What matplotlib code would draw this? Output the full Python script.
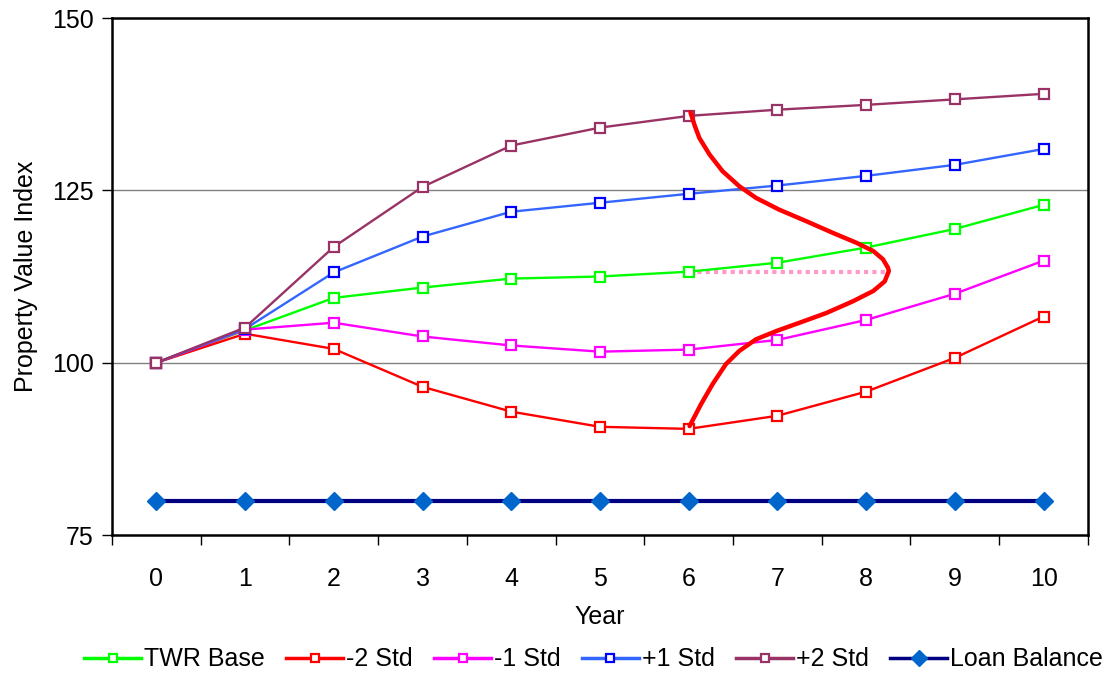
import matplotlib
matplotlib.use('Agg')
import matplotlib.pyplot as plt

plt.rcParams['font.family'] = ['Liberation Sans', 'DejaVu Sans']

years = list(range(11))
twr_base = [100, 104.7, 109.4, 110.9, 112.2, 112.5, 113.2, 114.5, 116.7, 119.4, 122.9]
minus2 = [100, 104.2, 102.0, 96.5, 92.9, 90.7, 90.4, 92.3, 95.8, 100.7, 106.7]
minus1 = [100, 104.8, 105.8, 103.8, 102.5, 101.6, 101.9, 103.3, 106.2, 110.0, 114.8]
plus1 = [100, 104.9, 113.1, 118.3, 121.9, 123.2, 124.5, 125.7, 127.1, 128.7, 131.0]
plus2 = [100, 105.1, 116.8, 125.5, 131.5, 134.1, 135.8, 136.7, 137.4, 138.2, 139.0]
loan = [80] * 11

# sideways distribution sketch drawn at year 6
dist_x = [6.02, 6.065, 6.12, 6.235, 6.38, 6.57, 6.76, 7.02, 7.33, 7.63, 7.89, 8.08,
          8.19, 8.245, 8.256, 8.21, 8.08, 7.85, 7.55, 7.25, 6.99, 6.76, 6.57, 6.42,
          6.27, 6.14, 6.01]
dist_y = [136.3, 134.5, 132.6, 130.2, 127.8, 125.6, 123.9, 122.2, 120.5, 118.8, 117.4,
          116.2, 115.0, 113.8, 113.3, 111.8, 110.4, 108.9, 107.2, 105.8, 104.6, 103.4,
          101.7, 99.8, 96.9, 94.0, 90.8]
mean_x = [6, 8.25]
mean_y = [113.2, 113.2]

fig = plt.figure(figsize=(11.09, 6.77), dpi=100)
ax = fig.add_axes([0.101, 0.2097, 0.880, 0.7637])

ax.axhline(100, color='#808080', lw=1, zorder=1)
ax.axhline(125, color='#808080', lw=1, zorder=1)

ax.plot(mean_x, mean_y, color='#FF99CC', lw=3, linestyle=(0, (1, 1)), zorder=2)

mk = dict(marker='s', markersize=6.5, markerfacecolor='white', markeredgewidth=1.6, lw=1.7)
ax.plot(years, twr_base, color='#00FF00', markeredgecolor='#00FF00', label='TWR Base', zorder=4, **mk)
ax.plot(years, minus2, color='#FF0000', markeredgecolor='#FF0000', label='-2 Std', zorder=4, **mk)
ax.plot(years, minus1, color='#FF00FF', markeredgecolor='#FF00FF', label='-1 Std', zorder=4, **mk)
ax.plot(years, plus1, color='#3366FF', markeredgecolor='#0000FF', label='+1 Std', zorder=4, **mk)
ax.plot(years, plus2, color='#993366', markeredgecolor='#993366', label='+2 Std', zorder=4, **mk)
ax.plot(years, loan, color='#000080', lw=3, marker='D', markersize=9,
        markerfacecolor='#0066CC', markeredgecolor='#0066CC', label='Loan Balance', zorder=4)

ax.plot(dist_x, dist_y, color='#FF0000', lw=3.2, solid_joinstyle='round',
        solid_capstyle='round', zorder=5)

ax.set_xlim(-0.5, 10.5)
ax.set_ylim(75, 150)
ax.set_yticks([75, 100, 125, 150])
ax.set_xticks(years)
ax.set_xticks([i - 0.5 for i in range(12)], minor=True)
ax.tick_params(axis='x', which='major', length=0, labelsize=18, pad=23)
ax.tick_params(axis='x', which='minor', length=7, width=1, direction='out')
ax.tick_params(axis='y', length=7, width=1, labelsize=18, direction='out', pad=6)

for s in ax.spines.values():
    s.set_linewidth(1.8)
    s.set_color('black')

ax.set_xlabel('Year', fontsize=18, labelpad=10)
ax.set_ylabel('Property Value Index', fontsize=18, labelpad=10)

leg = fig.legend(loc='center', bbox_to_anchor=(0.535, 0.026), ncol=6, frameon=False,
                 fontsize=18, handlelength=2.3, handletextpad=0.1, columnspacing=0.85,
                 borderaxespad=0, markerscale=0.9)
for h in leg.legend_handles:
    h.set_linewidth(2.5)

fig.savefig('out.png', dpi=100)
